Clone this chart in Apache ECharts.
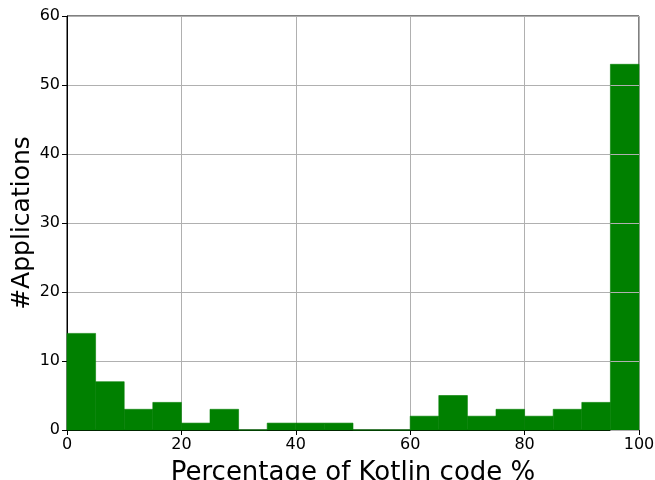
<!DOCTYPE html>
<html>
<head>
<meta charset="utf-8">
<script src="https://cdn.jsdelivr.net/npm/echarts@6/dist/echarts.min.js"></script>
<style>html,body{margin:0;padding:0;background:#fff}#c{width:655px;height:480px}</style>
</head>
<body>
<div id="c"></div>
<script>
const binStarts = [0,5,10,15,20,25,30,35,40,45,50,55,60,65,70,75,80,85,90,95];
const binEnds   = [5,10,15,20,25,30,35,40,45,50,55,60,65,70,75,80,85,90,95,100];
const counts    = [14,7,3,4,1,3,0,1,1,1,0,0,2,5,2,3,2,3,4,53];
const xTicks = [0,20,40,60,80,100];
const yTicks = [0,10,20,30,40,50,60];
const xTitle = 'Percentage of Kotlin code %';
const yTitle = '#Applications';

const W = 655, gLeft = 67, gRight = 16, gTop = 16, gBottom = 50;
const xMin = 0, xMax = 100;
const pw = W - gLeft - gRight;
const lastStart = binStarts[binStarts.length - 1];
const overlayLeft = gLeft + pw * (lastStart - xMin) / (xMax - xMin);

const font = 'DejaVu Sans';
const chart = echarts.init(document.getElementById('c'), null, {renderer: 'canvas'});
const data = counts.map((c, i) => [binStarts[i], binEnds[i], c]);

chart.setOption({
  animation: false,
  grid: [
    {left: gLeft, right: gRight, top: gTop, bottom: gBottom, show: true, borderColor: '#000', borderWidth: 1, z: 0, containLabel: false, outerBoundsMode: 'none'},
    {left: overlayLeft, right: gRight, top: gTop, bottom: gBottom, show: false, containLabel: false, outerBoundsMode: 'none'}
  ],
  xAxis: [{
    type: 'value', gridIndex: 0, min: xMin, max: xMax, interval: 20,
    name: xTitle, nameLocation: 'middle', nameGap: 30,
    nameTextStyle: {fontFamily: font, fontSize: 26, color: '#000'},
    axisLine: {show: true, lineStyle: {color: '#000', width: 1}},
    axisTick: {show: true, length: 5, lineStyle: {color: '#000'}},
    axisLabel: {fontFamily: font, fontSize: 16, color: '#000', margin: 7, showMaxLabel: true, showMinLabel: true},
    splitLine: {show: true, lineStyle: {color: '#b0b0b0', width: 1}}
  }, {
    type: 'value', gridIndex: 1, min: lastStart, max: xMax, show: false
  }],
  yAxis: [{
    type: 'value', gridIndex: 0, min: 0, max: 60, interval: 10,
    name: yTitle, nameLocation: 'middle', nameGap: 32, nameRotate: 90, nameMoveOverlap: false,
    nameTextStyle: {fontFamily: font, fontSize: 25, color: '#000'},
    axisLine: {show: true, lineStyle: {color: '#000', width: 1}},
    axisTick: {show: true, length: 5, lineStyle: {color: '#000'}},
    axisLabel: {fontFamily: font, fontSize: 16, color: '#000', margin: 7},
    splitLine: {show: true, lineStyle: {color: '#b0b0b0', width: 1}}
  }, {
    type: 'value', gridIndex: 1, min: 0, max: 60, interval: 10, z: 10,
    axisLine: {show: false}, axisTick: {show: false}, axisLabel: {show: false},
    splitLine: {show: true, lineStyle: {color: '#b0b0b0', width: 1}}
  }],
  series: [{
    type: 'custom',
    xAxisIndex: 0, yAxisIndex: 0,
    data: data,
    encode: {x: [0, 1], y: 2},
    renderItem: function (params, api) {
      const p0 = api.coord([api.value(0), api.value(2)]);
      const p1 = api.coord([api.value(1), 0]);
      return {
        type: 'rect',
        shape: {x: p0[0], y: p0[1], width: p1[0] - p0[0], height: p1[1] - p0[1]},
        style: {fill: '#008000', stroke: '#008000', lineWidth: 0.6}
      };
    },
    z: 2
  }, {
    type: 'line', xAxisIndex: 1, yAxisIndex: 1, data: [], silent: true
  }]
});
</script>
</body>
</html>
